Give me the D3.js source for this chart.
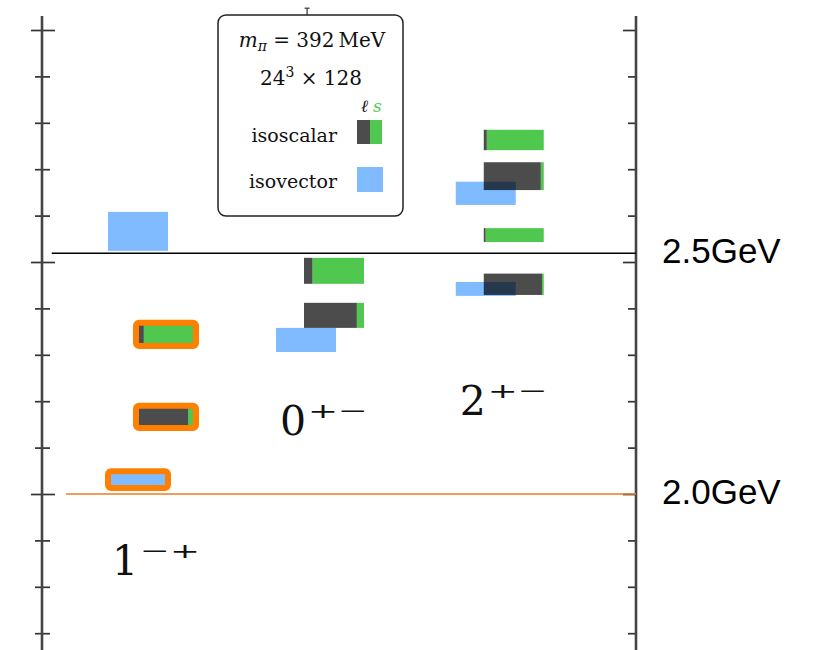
<!DOCTYPE html>
<html>
<head>
<meta charset="utf-8">
<script src="https://cdn.jsdelivr.net/npm/d3@7"></script>
<style>
  body { margin: 0; background: #fff; }
  svg { display: block; }
</style>
</head>
<body>
<div class="chart"></div>
<script>
// Data (masses in lattice units, column slot on x)
const columns = ['1-+', '0+-', '2+-'];
const columnSlot = [1, 2, 3.07];
const columnBase = ['1', '0', '2'];
const columnSup = ['\u2212+', '+\u2212', '+\u2212'];
const columnLabelAt = [0.3325, 0.3627, 0.3670];

// isovector states: column, centre, half error, highlighted
const isovector = [
  {col: '1-+', m: 0.4066, e: 0.0042, hl: false},
  {col: '1-+', m: 0.3531, e: 0.0018, hl: true},
  {col: '0+-', m: 0.3832, e: 0.0026, hl: false},
  {col: '2+-', m: 0.4148, e: 0.0025, hl: false},
  {col: '2+-', m: 0.3942, e: 0.0015, hl: false}
];
// isoscalar states: light fraction drawn dark, rest strange (green)
const isoscalar = [
  {col: '1-+', m: 0.3844, e: 0.0025, light: 0.13, hl: true},
  {col: '1-+', m: 0.3666, e: 0.0024, light: 0.87, hl: true},
  {col: '0+-', m: 0.3981, e: 0.0028, light: 0.14, hl: false},
  {col: '0+-', m: 0.3885, e: 0.0027, light: 0.88, hl: false},
  {col: '2+-', m: 0.4263, e: 0.0022, light: 0.05, hl: false},
  {col: '2+-', m: 0.4185, e: 0.0030, light: 0.95, hl: false},
  {col: '2+-', m: 0.4058, e: 0.0015, light: 0.03, hl: false},
  {col: '2+-', m: 0.3952, e: 0.0023, light: 0.97, hl: false}
];
// reference lines
const refLines = [
  {label: '2.5GeV', m: 0.4019, from: 0.32, color: '#000', w: 1.4},
  {label: '2.0GeV', m: 0.3500, from: 0.405, color: '#f07a22', w: 1.3}
];
// tick values
const tickValues = d3.range(32, 46).map(d => d / 100);
const majorTicks = [0.35, 0.40, 0.45];
// stray error bar peeking above the legend
const hiddenBar = {slot: 1.84, lo: 0.44, hi: 0.4547};

const W = 818, H = 650;
const BAR_W = 60, IV_SHIFT = -28;
const blue = '#80bbff', green = '#50c850', orange = '#ff8000';

const svg = d3.select('.chart').append('svg').attr('width', W).attr('height', H);

const x = d3.scaleLinear().domain([1, 2]).range([166, 334]);
const y = d3.scaleLinear().domain([0.35, 0.45]).range([494, 30]);
const slotOf = c => columnSlot[columns.indexOf(c)];
const isMajor = d => majorTicks.some(t => Math.abs(t - d) < 1e-6);

const axisTop = 16, axisBottom = 650;
const xL = 42, xR = 636;

// axes
const leftAxis = svg.append('g').attr('transform', `translate(${xL},0)`)
  .call(d3.axisLeft(y).tickValues(tickValues).tickFormat('').tickSizeOuter(0));
leftAxis.select('.domain').remove();
leftAxis.selectAll('.tick line')
  .attr('x1', d => isMajor(d) ? -11 : -7)
  .attr('x2', d => isMajor(d) ? 13 : 8)
  .attr('stroke', '#333').attr('stroke-width', 1.7);

const rightAxis = svg.append('g').attr('transform', `translate(${xR},0)`)
  .call(d3.axisLeft(y).tickValues(tickValues).tickFormat('').tickSizeOuter(0));
rightAxis.select('.domain').remove();
rightAxis.selectAll('.tick line')
  .attr('x1', d => isMajor(d) ? -13 : -8)
  .attr('x2', 0)
  .attr('stroke', '#333').attr('stroke-width', 1.7);

[xL, xR].forEach(xx => {
  svg.append('line').attr('x1', xx).attr('x2', xx)
    .attr('y1', axisTop).attr('y2', axisBottom)
    .attr('stroke', '#444').attr('stroke-width', 2.6);
});

// reference lines + labels
refLines.forEach(r => {
  svg.append('line')
    .attr('x1', x(r.from)).attr('x2', xR)
    .attr('y1', y(r.m)).attr('y2', y(r.m))
    .attr('stroke', r.color).attr('stroke-width', r.w);
  svg.append('text')
    .attr('x', xR + 26).attr('y', y(r.m) + 10)
    .style('font-family', '"Liberation Sans", Arial, sans-serif')
    .style('font-size', '35px').style('fill', '#000')
    .text(r.label);
});

// hidden error bar
svg.append('line').attr('x1', x(hiddenBar.slot)).attr('x2', x(hiddenBar.slot))
  .attr('y1', y(hiddenBar.hi)).attr('y2', y(hiddenBar.lo))
  .attr('stroke', '#333').attr('stroke-width', 1.2);
svg.append('line').attr('x1', x(hiddenBar.slot) - 2.5).attr('x2', x(hiddenBar.slot) + 2.5)
  .attr('y1', y(hiddenBar.hi)).attr('y2', y(hiddenBar.hi))
  .attr('stroke', '#333').attr('stroke-width', 1.2);

// isovector boxes
const ivX = d => x(slotOf(d.col)) + IV_SHIFT - BAR_W / 2;
svg.append('g').selectAll('rect').data(isovector).join('rect')
  .attr('x', ivX)
  .attr('y', d => y(d.m + d.e))
  .attr('width', BAR_W)
  .attr('height', d => y(d.m - d.e) - y(d.m + d.e))
  .attr('fill', blue);

// isoscalar boxes
const isX = d => x(slotOf(d.col)) - BAR_W / 2;
const isG = svg.append('g');
isG.selectAll('.strange').data(isoscalar).join('rect').attr('class', 'strange')
  .attr('x', d => isX(d) + d.light * BAR_W)
  .attr('y', d => y(d.m + d.e))
  .attr('width', d => (1 - d.light) * BAR_W)
  .attr('height', d => y(d.m - d.e) - y(d.m + d.e))
  .attr('fill', green);
isG.selectAll('.light').data(isoscalar).join('rect').attr('class', 'light')
  .attr('x', isX)
  .attr('y', d => y(d.m + d.e))
  .attr('width', d => d.light * BAR_W)
  .attr('height', d => y(d.m - d.e) - y(d.m + d.e))
  .attr('fill', '#000').attr('fill-opacity', 0.7);

// orange highlight outlines
const hl = isovector.filter(d => d.hl).map(d => ({x0: ivX(d), d}))
  .concat(isoscalar.filter(d => d.hl).map(d => ({x0: isX(d), d})));
svg.append('g').selectAll('rect').data(hl).join('rect')
  .attr('x', h => h.x0)
  .attr('y', h => y(h.d.m + h.d.e))
  .attr('width', BAR_W)
  .attr('height', h => y(h.d.m - h.d.e) - y(h.d.m + h.d.e))
  .attr('rx', 3)
  .attr('fill', 'none').attr('stroke', orange).attr('stroke-width', 6);

// J^PC labels
const serif = '"DejaVu Serif", serif';
columns.forEach((c, i) => {
  const lx = x(columnSlot[i]) - 54;
  const ly = y(columnLabelAt[i]);
  svg.append('text').attr('x', lx).attr('y', ly)
    .style('font-family', serif).style('font-size', '41px').style('fill', '#111')
    .text(columnBase[i]);
  svg.append('text').attr('x', lx + 28).attr('y', ly - 17)
    .attr('textLength', 60).attr('lengthAdjust', 'spacingAndGlyphs')
    .style('font-family', serif).style('font-size', '21px').style('fill', '#111')
    .text(columnSup[i]);
});

// legend
const lg = svg.append('g');
lg.append('rect').attr('x', 218).attr('y', 15).attr('width', 185).attr('height', 201)
  .attr('rx', 8).attr('fill', '#fff').attr('stroke', '#222').attr('stroke-width', 1.5);

const t1 = lg.append('text').attr('x', 312).attr('y', 47).attr('text-anchor', 'middle')
  .style('font-family', serif).style('font-size', '20px').style('fill', '#111');
t1.append('tspan').style('font-style', 'italic').text('m');
t1.append('tspan').style('font-style', 'italic').style('font-size', '14px').attr('dy', 4).text('\u03c0');
t1.append('tspan').attr('dy', -4).text(' = 392\u2009MeV');

const t2 = lg.append('text').attr('x', 311).attr('y', 85).attr('text-anchor', 'middle')
  .style('font-family', serif).style('font-size', '20px').style('fill', '#111');
t2.append('tspan').text('24');
t2.append('tspan').style('font-size', '14px').attr('dy', -8).text('3');
t2.append('tspan').attr('dy', 8).text(' \u00d7 128');

lg.append('text').attr('x', 361).attr('y', 112)
  .style('font-family', serif).style('font-size', '17px').style('font-style', 'italic')
  .style('fill', '#111').text('\u2113');
lg.append('text').attr('x', 373).attr('y', 112)
  .style('font-family', serif).style('font-size', '17px').style('font-style', 'italic')
  .style('fill', green).text('s');

[['isoscalar', 142], ['isovector', 188]].forEach(([t, yy]) => {
  lg.append('text').attr('x', 337).attr('y', yy).attr('text-anchor', 'end')
    .style('font-family', serif).style('font-size', '19px').style('fill', '#111').text(t);
});
lg.append('rect').attr('x', 370).attr('y', 120).attr('width', 12).attr('height', 24).attr('fill', green);
lg.append('rect').attr('x', 357).attr('y', 120).attr('width', 13).attr('height', 24)
  .attr('fill', '#000').attr('fill-opacity', 0.7);
lg.append('rect').attr('x', 357).attr('y', 167).attr('width', 26).attr('height', 25).attr('fill', blue);
</script>
</body>
</html>
